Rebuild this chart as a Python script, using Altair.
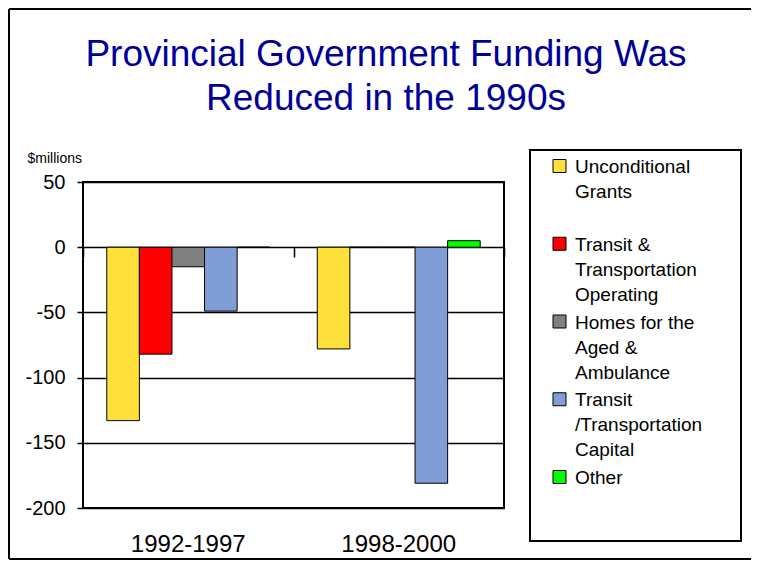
import altair as alt
import pandas as pd

FONT = "Liberation Sans"

# ---- data ----
periods = ["1992-1997", "1998-2000"]
series = [
    "Unconditional Grants",
    "Transit & Transportation Operating",
    "Homes for the Aged & Ambulance",
    "Transit /Transportation Capital",
    "Other",
]
legend_labels = [
    "Unconditional\nGrants",
    "Transit &\nTransportation\nOperating",
    "Homes for the\nAged &\nAmbulance",
    "Transit\n/Transportation\nCapital",
    "Other",
]
colors = ["#FFE03A", "#FF0000", "#808080", "#7F9ED6", "#00FF00"]
values_1992_1997 = [-133, -82, -15, -49, 0]
values_1998_2000 = [-78, 0, 0, -181, 5]
y_ticks = [-200, -150, -100, -50, 0, 50]
title_lines = ["Provincial Government Funding Was", "Reduced in the 1990s"]
y_unit = "$millions"

rows = []
for s, v in zip(series, values_1992_1997):
    rows.append({"period": periods[0], "series": s, "value": v})
for s, v in zip(series, values_1998_2000):
    rows.append({"period": periods[1], "series": s, "value": v})
df = pd.DataFrame(rows)

leg_df = pd.DataFrame({"series": series, "label": legend_labels, "slot": list(range(len(series)))})
title_df = pd.DataFrame({"t": ["\n".join(title_lines)]})
one = pd.DataFrame({"k": [0]})

color = alt.Color("series:N", scale=alt.Scale(domain=series, range=colors), legend=None)
x_scale = alt.Scale(paddingInner=0, paddingOuter=0)
y_scale = alt.Scale(domain=[-200, 50], nice=False, zero=False)

# slide frame (top, left, bottom edges; the right edge lies outside the picture)
frame_top = alt.Chart(one).mark_rule(stroke="black", strokeWidth=2).encode(
    x=alt.value(-74), x2=alt.value(700), y=alt.value(-173)
)
frame_left = alt.Chart(one).mark_rule(stroke="black", strokeWidth=2).encode(
    x=alt.value(-74), y=alt.value(-173), y2=alt.value(377)
)
frame_bottom = alt.Chart(one).mark_rule(stroke="black", strokeWidth=2).encode(
    x=alt.value(-74), x2=alt.value(700), y=alt.value(377)
)

# title
title_main = alt.Chart(title_df).mark_text(
    align="center", baseline="top", lineBreak="\n", fontSize=37, lineHeight=44,
    font=FONT, color="#000099"
).encode(x=alt.value(303), y=alt.value(-145), text="t:N")

bars = alt.Chart(df).mark_bar(stroke="black", strokeWidth=1).encode(
    x=alt.X(
        "period:N", sort=periods, scale=x_scale,
        axis=alt.Axis(title=None, labelAngle=0, labelFontSize=24, labelFont=FONT,
                      labelColor="black", ticks=False, domain=False, labelPadding=24,
                      grid=False),
    ),
    xOffset=alt.XOffset("series:N", sort=series,
                        scale=alt.Scale(paddingInner=0, paddingOuter=0.73)),
    y=alt.Y(
        "value:Q", scale=y_scale,
        axis=alt.Axis(
            values=y_ticks, labelExpr="'' + datum.value", title=y_unit, titleAngle=0,
            titleAlign="left", titleBaseline="alphabetic", titleX=-56, titleY=-20,
            titleFontSize=14, titleFontWeight="normal", titleFont=FONT, titleColor="black",
            labelFontSize=20, labelFont=FONT, labelColor="black", labelPadding=12,
            tickSize=6, tickColor="black", tickWidth=1.5, domain=False,
            grid=True, gridColor="black", gridWidth=1.5, gridOpacity=1,
        ),
    ),
    color=color,
)

# category tick on the zero line between the two groups
zero_ticks = alt.Chart(df).mark_bar(opacity=0).encode(
    x=alt.X(
        "period:N", sort=periods, scale=x_scale,
        axis=alt.Axis(title=None, labels=False, domain=False, ticks=True,
                      tickBand="extent", tickSize=10, tickColor="black", tickWidth=1.5,
                      offset=-261, orient="bottom", grid=False),
    ),
    y=alt.Y("value:Q", scale=y_scale, axis=None),
)

legend_y = alt.Y("slot:Q", scale=alt.Scale(domain=[0, 4], range=[-16, 295]), axis=None)

legend_box = alt.Chart(one).mark_rect(fill="white", stroke="black", strokeWidth=2).encode(
    x=alt.value(447), x2=alt.value(658), y=alt.value(-32), y2=alt.value(359)
)
swatches = alt.Chart(leg_df).mark_square(size=169, stroke="black", strokeWidth=1, opacity=1).encode(
    x=alt.value(476.5), y=legend_y, color=color
)
legend_text = alt.Chart(leg_df).mark_text(
    align="left", baseline="top", dy=-8, lineBreak="\n", fontSize=19, lineHeight=25,
    font=FONT, color="black"
).encode(x=alt.value(492), y=legend_y, text="label:N")

chart = (
    alt.layer(frame_top, frame_left, frame_bottom, title_main, bars, zero_ticks,
              legend_box, swatches, legend_text)
    .resolve_scale(y="independent")
    .resolve_axis(x="independent")
    .properties(
        width=421, height=326,
        padding={"left": 75, "top": 174, "right": 247, "bottom": 53},
        autosize=alt.AutoSizeParams(type="none"),
        background="white",
    )
    .configure_view(stroke="black", strokeWidth=2)
)

chart.save("out.html", embed_options={"renderer": "svg", "actions": False})
